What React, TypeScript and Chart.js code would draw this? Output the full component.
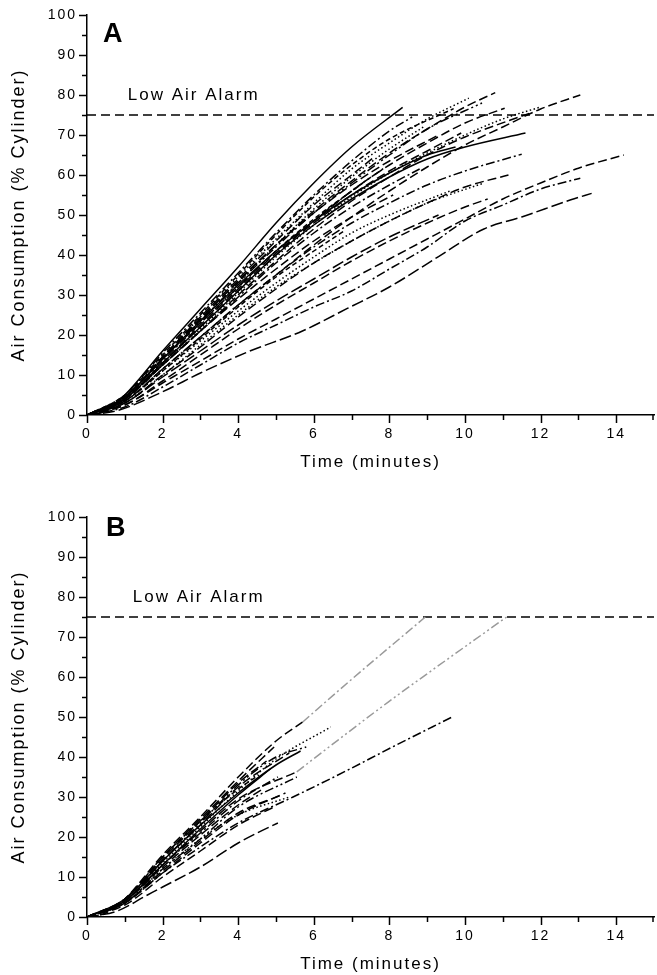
import React, { useEffect, useRef } from 'react';
import { Chart, registerables } from 'chart.js';

Chart.register(...registerables);

type P = [number, number];

// ---------- axis settings ----------
const X_MIN = 0;
const X_MAX = 15;
const Y_MIN = 0;
const Y_MAX = 100;
const xTickLabels = ['0', '2', '4', '6', '8', '10', '12', '14'];
const yTickLabels = ['0', '10', '20', '30', '40', '50', '60', '70', '80', '90', '100'];
const ALARM_LEVEL = 75;
const ALARM_TEXT = 'Low Air Alarm';
const X_TITLE = 'Time (minutes)';
const Y_TITLE = 'Air Consumption (% Cylinder)';

// ---------- Panel A series (time min, % cylinder) ----------
const a01: P[] = [[0, 0], [0.5, 1], [1, 5], [2, 16], [3, 26.5], [4, 37], [5, 48], [6, 58], [7, 67], [8.35, 76.9]];
const a02: P[] = [[0, 0], [1, 4.5], [2, 14], [3, 24], [4, 33.5], [5, 42.5], [6, 51], [7, 58.5], [8, 65.5], [9, 71.5], [10, 77], [10.8, 80.6]];
const a03: P[] = [[0, 0], [1, 4.5], [2, 14.5], [3, 24.5], [4, 34.5], [5, 44], [6, 53], [7, 61.5], [8, 68], [9, 74], [10.1, 79.2]];
const a04: P[] = [[0, 0], [1, 5], [2, 15], [3, 25], [4, 35], [5, 45], [6, 54.5], [7, 62.5], [8, 69], [9.7, 76.6]];
const a05: P[] = [[0, 0], [1, 5], [2, 15.5], [3, 25.5], [4, 35.5], [5, 45.5], [6, 55], [7, 63.5], [8, 71], [8.6, 74.5]];
const a06: P[] = [[0, 0], [1, 4], [2, 13], [3, 22], [4, 31], [5, 40], [6, 48.5], [7, 56], [8, 62.5], [9, 68], [10, 73], [11.05, 76.7]];
const a07: P[] = [[0, 0], [1, 4.5], [2, 14], [3, 23.5], [4, 33], [5, 42], [6, 50.5], [7, 58], [8, 65], [9, 71.5], [10.45, 78]];
const a08: P[] = [[0, 0], [1, 4], [2, 12.5], [3, 21], [4, 30], [5, 38.5], [6, 46.5], [7, 53.5], [8, 59.5], [9, 65], [10, 69.5], [11.7, 75.4]];
const a09: P[] = [[0, 0], [1, 4], [2, 12.5], [3, 21.5], [4, 30.5], [5, 39.5], [6, 47.5], [7, 54.5], [8, 60.5], [9, 65.5], [10, 70], [11, 74], [12, 77]];
const a10: P[] = [[0, 0], [1, 4], [2, 13], [3, 22], [4, 31], [5, 40], [6, 47.5], [7, 54], [8, 59.5], [9, 64], [10, 67], [11.6, 70.5]];
const a11: P[] = [[0, 0], [1, 3.5], [2, 11.5], [3, 19.5], [4, 27.5], [5, 35], [6, 42], [7, 48], [8, 53], [9, 57.5], [10, 61], [11.5, 65.2]];
const a12: P[] = [[0, 0], [1, 3], [2, 10], [3, 17], [4, 24.5], [5, 31.5], [6, 38], [7, 43.5], [8, 48.5], [9, 53], [10, 57], [11.15, 60]];
const a13: P[] = [[0, 0], [1, 3.5], [2, 11.5], [3, 19.5], [4, 27.5], [5, 35], [6, 42.5], [7, 49.5], [8, 56], [9, 62], [10, 67.5], [11, 72], [12, 76.5], [13.05, 80]];
const a14: P[] = [[0, 0], [1, 2.5], [2, 8], [3, 13.5], [4, 19], [5, 24], [6, 29], [7, 34], [8, 39], [9, 44], [10, 49], [11, 54], [12, 58], [13, 61.7], [14.2, 65]];
const a15: P[] = [[0, 0], [1, 2], [2, 7], [3, 12.5], [4, 18], [5, 22.5], [6, 27], [7, 31], [8, 36.5], [9, 42], [10, 48.5], [11, 52.5], [12, 56.5], [13.05, 59.2]];
const a16: P[] = [[0, 0], [0.8, 1.1], [2, 5.8], [3, 10.5], [4.26, 15.8], [5.7, 21], [6.9, 26.7], [8, 32], [9.3, 39.6], [10.5, 46.5], [11.5, 49.5], [12.8, 53.8], [13.35, 55.4]];
const a17: P[] = [[0, 0], [1, 4.5], [2, 14], [3, 23.5], [4, 32.5], [5, 41], [6, 48.5], [7, 55], [8, 60.5], [9, 65], [9.75, 67]];
const a18: P[] = [[0, 0], [1, 4.5], [2, 14.5], [3, 24], [4, 33.5], [5, 42.5], [6, 50.5], [7, 57.5], [8, 63.5], [9.3, 70]];
const a19: P[] = [[0, 0], [1, 3.5], [2, 11], [3, 18.5], [4, 26], [5, 33], [6, 39.5], [7, 45.5], [8, 50], [9.6, 56]];
const a20: P[] = [[0, 0], [1, 4], [2, 13.5], [3, 23], [4, 32], [5, 41], [6, 48.5], [7, 56], [7.9, 62]];
const a21: P[] = [[0, 0], [1, 4], [2, 12.5], [3, 21], [4, 29], [5, 36.5], [6, 43.5], [7, 49.5], [8.1, 55]];
const a22: P[] = [[0, 0], [1, 4.5], [2, 14], [3, 23], [4, 32], [5, 41], [6, 49], [7.3, 58]];
const a23: P[] = [[0, 0], [1, 2.5], [2, 8.5], [3, 15], [4, 21.5], [5, 27.5], [6, 33], [7, 38.5], [8, 43.5], [9, 48], [10, 52], [10.6, 54]];
const a24: P[] = [[0, 0], [1, 3], [2, 10], [3, 17.5], [4, 25], [5, 32], [6, 38], [7, 43.5], [8, 48.5], [9, 53], [10.5, 58]];
const a25: P[] = [[0, 0], [1, 3], [2, 9.5], [3, 16], [4, 22.5], [5, 28.5], [6, 34], [7, 39.5], [8, 44.5], [9.3, 50]];
const a26: P[] = [[0, 0], [1, 4], [2, 13], [3, 22.5], [4, 31.5], [5, 40.5], [6, 48], [7, 55], [8, 61], [9, 66], [9.9, 70.5]];
const a27: P[] = [[0, 0], [1, 4], [2, 12.5], [3, 21], [4, 29.5], [5, 38], [6, 45.5], [7, 52], [8, 57.5], [8.8, 61.5]];
const a28: P[] = [[0, 0], [1, 4.5], [2, 14], [3, 23.5], [4, 33], [5, 42.5], [6, 51.5], [7, 59.5], [8, 66.5], [8.9, 72]];
const a29: P[] = [[0, 0], [1, 3.5], [2, 11], [3, 19], [4, 27], [5, 34.5], [6, 41], [6.8, 46]];
const a30: P[] = [[0, 0], [1, 4.5], [2, 14.5], [3, 24.5], [4, 34], [5, 43.5], [6, 52.5], [7, 60], [7.6, 64.5]];

// ---------- Panel B series ----------
const b01: P[] = [[0, 0], [0.5, 1], [1, 4.5], [2, 15.5], [3, 25], [4, 35], [5, 44], [5.7, 48.7]];
const b02: P[] = [[5.7, 48.7], [6.9, 58.6], [8.95, 75]];
const b03: P[] = [[0, 0], [1, 4.5], [2, 15], [3, 24.5], [4, 34], [4.95, 42.5]];
const b04: P[] = [[0, 0], [1, 4], [2, 14], [3, 23.5], [4, 33], [5, 40], [5.8, 42.5]];
const b05: P[] = [[0, 0], [1, 4], [2, 13.5], [3, 22.5], [4, 31.5], [5, 39.5], [6.45, 47.5]];
const b06: P[] = [[0, 0], [1, 4], [2, 13], [3, 22], [4, 30.5], [4.85, 37]];
const b07: P[] = [[0, 0], [1, 4], [2, 13], [3, 21.5], [4, 29.5], [5.55, 36.3]];
const b08: P[] = [[5.55, 36.3], [6.65, 44.3], [7.95, 53.6], [11.1, 75]];
const b09: P[] = [[0, 0], [1, 3.5], [2, 11], [3, 17.5], [4, 23.5], [5.45, 30], [6.85, 36.5], [8.1, 42.6], [9.66, 50]];
const b10: P[] = [[0, 0], [0.8, 1.5], [1.6, 5.5], [2, 7.5], [3, 12.5], [4, 18.5], [4.5, 21], [5.05, 23.5]];
const b11: P[] = [[0, 0], [1, 3.5], [2, 11], [3, 18.5], [4, 25.5], [5.25, 31]];
const b12: P[] = [[0, 0], [1, 3.5], [2, 12], [3, 19.5], [4, 25.5], [5.35, 30]];
const b13: P[] = [[0, 0], [1, 4.5], [2, 14.5], [3, 24], [4, 33.5], [4.75, 39]];
const b14: P[] = [[0, 0], [1, 4], [2, 13], [3, 21], [4, 29], [5.05, 35]];
const b15: P[] = [[0, 0], [1, 4], [2, 12.5], [3, 20.5], [4, 28], [4.65, 32]];
const b16: P[] = [[0, 0], [1, 4.5], [2, 15], [3, 24], [4, 32], [4.55, 35.5]];
const b17: P[] = [[0, 0], [1, 3.5], [2, 11.5], [3, 19], [4, 26], [5.15, 30.5]];
const b18: P[] = [[0, 0], [1, 4], [2, 14], [3, 23], [4, 32.5], [5.35, 41]];
const b19: P[] = [[0, 0], [1, 4.5], [2, 14], [3, 23], [4, 31], [5, 38], [5.65, 41.5]];
const b20: P[] = [[0, 0], [1, 3.5], [2, 12], [3, 19.5], [4, 27.5], [5.55, 35]];
const b21: P[] = [[0, 0], [1, 3], [2, 10], [3, 16.5], [4, 23], [4.95, 27.5]];

const seriesA: P[][] = [a01, a02, a03, a04, a05, a06, a07, a08, a09, a10, a11, a12, a13, a14, a15, a16, a17, a18, a19, a20, a21, a22, a23, a24, a25, a26, a27, a28, a29, a30];
const seriesB: P[][] = [b01, b02, b03, b04, b05, b06, b07, b08, b09, b10, b11, b12, b13, b14, b15, b16, b17, b18, b19, b20, b21];

// ---------- styles (kept apart from data) ----------
const DASHES: Record<string, number[]> = {
  solid: [],
  dash: [9, 4],
  shortDash: [5, 3],
  longDash: [12, 4],
  dashDot: [9, 3, 2, 3],
  dashDotDot: [9, 3, 2, 3, 2, 3],
  dot: [1.5, 2.5],
};
const stylesA = ['solid', 'dash', 'dot', 'shortDash', 'dashDot', 'dash', 'dashDotDot', 'dash', 'dot', 'solid', 'dashDot', 'dash', 'dash', 'dash', 'dashDot', 'longDash', 'solid', 'dash', 'dot', 'dashDot', 'dash', 'shortDash', 'dash', 'dot', 'longDash', 'dash', 'dashDot', 'dot', 'shortDash', 'dash'];
const colorsA = seriesA.map(() => '#000000');
const stylesB = ['dash', 'dashDot', 'dash', 'dashDotDot', 'dot', 'solid', 'dash', 'dashDotDot', 'dashDot', 'longDash', 'dash', 'dot', 'dash', 'dashDot', 'dash', 'shortDash', 'dash', 'dash', 'solid', 'dashDotDot', 'dash'];
const colorsB = seriesB.map((_, i) => (i === 1 || i === 7 ? '#9a9a9a' : '#000000'));

const FONT_FAMILY = '"Liberation Sans", Arial, Helvetica, sans-serif';

interface PanelSpec {
  series: P[][];
  styles: string[];
  colors: string[];
  label: string;
  labelPos: P;
  alarmTextPos: P;
}

const panelA: PanelSpec = { series: seriesA, styles: stylesA, colors: colorsA, label: 'A', labelPos: [0.42, 95.2], alarmTextPos: [1.08, 79.8] };
const panelB: PanelSpec = { series: seriesB, styles: stylesB, colors: colorsB, label: 'B', labelPos: [0.5, 97], alarmTextPos: [1.21, 79.9] };

function makeDecor(spec: PanelSpec) {
  return {
    id: 'decor',
    beforeDraw(chart: any) {
      chart.ctx.letterSpacing = '2px';
    },
    afterDraw(chart: any) {
      const { ctx } = chart;
      const x = chart.scales.x;
      const y = chart.scales.y;
      ctx.save();
      ctx.strokeStyle = '#000';
      ctx.lineWidth = 1.5;
      x.ticks.forEach((t: any) => {
        if (!Number.isInteger(t.value)) return;
        const px = Math.min(Math.round(x.getPixelForValue(t.value)) + 0.5, x.right - 1);
        const len = t.value % 2 === 0 ? 8 : 5;
        ctx.beginPath();
        ctx.moveTo(px, y.bottom);
        ctx.lineTo(px, y.bottom + len);
        ctx.stroke();
      });
      y.ticks.forEach((t: any) => {
        const py = Math.round(y.getPixelForValue(t.value)) + 0.5;
        const len = t.value % 10 === 0 ? 8 : 5;
        ctx.beginPath();
        ctx.moveTo(x.left, py);
        ctx.lineTo(x.left - len, py);
        ctx.stroke();
      });
      ctx.fillStyle = '#000';
      ctx.letterSpacing = '2px';
      ctx.textAlign = 'left';
      ctx.textBaseline = 'middle';
      ctx.font = `17px ${FONT_FAMILY}`;
      ctx.fillText(ALARM_TEXT, x.getPixelForValue(spec.alarmTextPos[0]), y.getPixelForValue(spec.alarmTextPos[1]));
      ctx.letterSpacing = '0px';
      ctx.font = `bold 27px ${FONT_FAMILY}`;
      ctx.fillText(spec.label, x.getPixelForValue(spec.labelPos[0]), y.getPixelForValue(spec.labelPos[1]));
      ctx.restore();
    },
  };
}

function buildConfig(spec: PanelSpec): any {
  const datasets: any[] = spec.series.map((pts, i) => ({
    data: pts.map(([t, v]) => ({ x: t, y: v })),
    borderColor: spec.colors[i],
    borderDash: DASHES[spec.styles[i]],
    borderWidth: 1.5,
    pointRadius: 0,
    fill: false,
    cubicInterpolationMode: 'monotone',
  }));
  datasets.push({
    data: [{ x: X_MIN, y: ALARM_LEVEL }, { x: X_MAX, y: ALARM_LEVEL }],
    borderColor: '#000',
    borderDash: [9, 5],
    borderWidth: 1.5,
    pointRadius: 0,
    fill: false,
  });
  const tickFont = { family: FONT_FAMILY, size: 14 };
  return {
    type: 'line',
    data: { datasets },
    options: {
      animation: false,
      responsive: false,
      events: [],
      layout: { padding: { top: 15, right: 0, left: 0, bottom: 0 } },
      plugins: { legend: { display: false }, tooltip: { enabled: false } },
      scales: {
        x: {
          type: 'linear',
          min: X_MIN,
          max: X_MAX,
          afterFit: (s: any) => { s.height = 58; },
          border: { display: true, color: '#000', width: 1.5 },
          grid: { display: true, drawOnChartArea: false, drawTicks: true, tickLength: 8, color: 'transparent', tickColor: 'transparent' },
          ticks: {
            stepSize: 1,
            includeBounds: false,
            autoSkip: false,
            maxRotation: 0,
            padding: 3,
            color: '#000',
            font: tickFont,
            callback: (v: number) => (xTickLabels.includes(String(v)) ? String(v) : ''),
          },
          title: { display: true, text: X_TITLE, color: '#000', font: { family: FONT_FAMILY, size: 17 }, padding: { top: 0, bottom: 0 } },
        },
        y: {
          type: 'linear',
          min: Y_MIN,
          max: Y_MAX,
          afterFit: (s: any) => { s.width = 87; },
          border: { display: true, color: '#000', width: 1.5 },
          grid: { display: true, drawOnChartArea: false, drawTicks: true, tickLength: 8, color: 'transparent', tickColor: 'transparent' },
          ticks: {
            stepSize: 5,
            autoSkip: false,
            padding: 2,
            color: '#000',
            font: tickFont,
            callback: (v: number) => (yTickLabels.includes(String(v)) ? String(v) : ''),
          },
          title: { display: true, text: Y_TITLE, color: '#000', font: { family: FONT_FAMILY, size: 18 }, padding: { top: 8, bottom: 0 } },
        },
      },
    },
    plugins: [makeDecor(spec)],
  };
}

function Panel({ spec, top }: { spec: PanelSpec; top: number }) {
  const ref = useRef<HTMLCanvasElement | null>(null);
  useEffect(() => {
    if (!ref.current) return;
    const chart = new Chart(ref.current, buildConfig(spec));
    return () => chart.destroy();
  }, [spec]);
  return (
    <canvas
      ref={ref}
      width={657}
      height={473}
      style={{ position: 'absolute', left: 0, top, width: 657, height: 473, display: 'block' }}
    />
  );
}

export default function App() {
  return (
    <div style={{ position: 'absolute', left: 0, top: 0, width: 657, height: 975, background: '#fff', overflow: 'hidden' }}>
      <Panel spec={panelA} top={0} />
      <Panel spec={panelB} top={502} />
    </div>
  );
}
